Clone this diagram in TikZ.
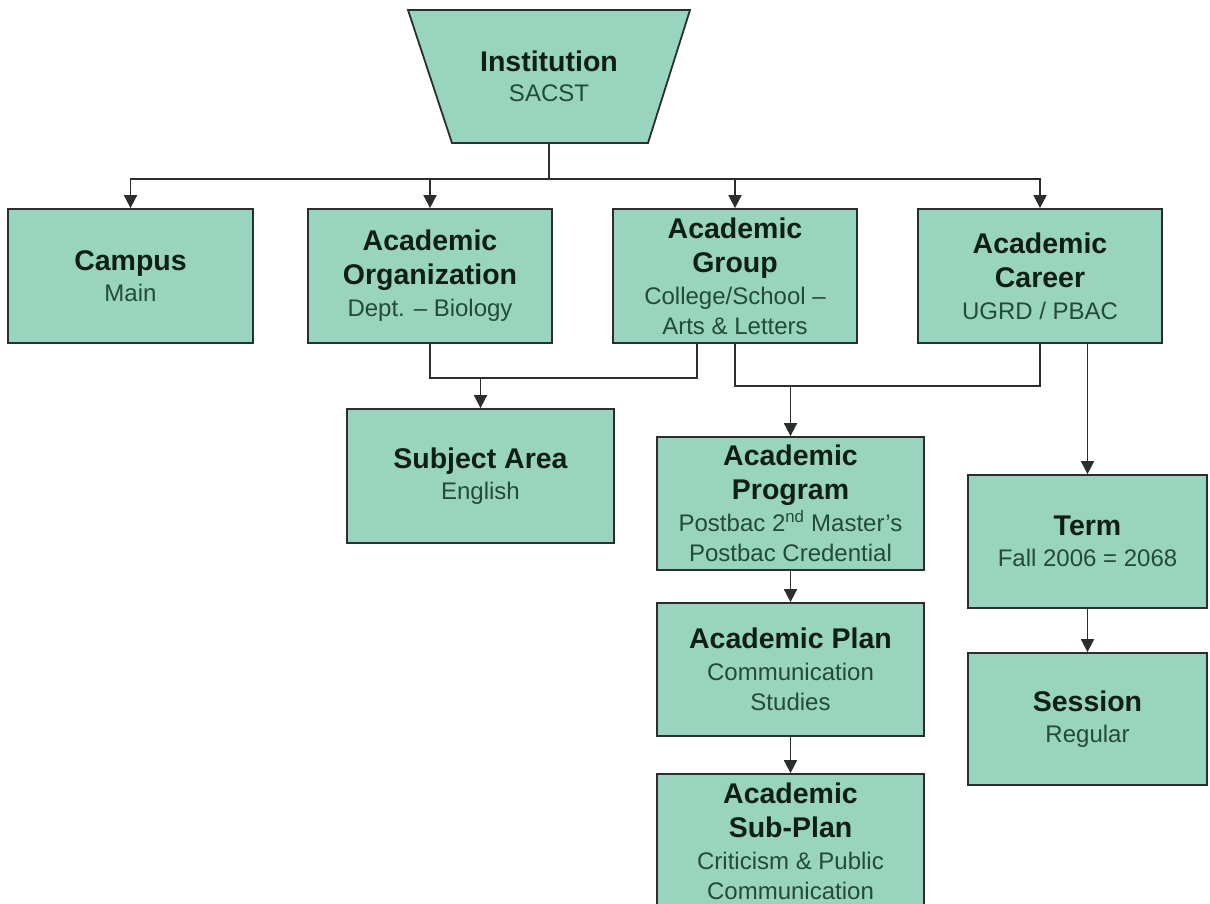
\documentclass[tikz,border=0pt]{standalone}
\usepackage{fontspec}
\setmainfont{Liberation Sans}
\usetikzlibrary{arrows.meta}
\definecolor{boxfill}{HTML}{99D5BE}
\definecolor{boxline}{HTML}{2A2E2C}
\definecolor{titlecol}{HTML}{0F1F18}
\definecolor{subcol}{HTML}{234A3A}
\newcommand{\ttlx}[1]{{\fontsize{28.5}{34}\selectfont\bfseries\color{titlecol}#1}}
\newcommand{\subx}[1]{{\fontsize{24}{30}\selectfont\color{subcol}#1}}
\tikzset{
  unitbox/.style={draw=boxline, line width=1.8pt, fill=boxfill, align=center,
    inner sep=0pt, minimum width=244pt, minimum height=134pt,
    font=\fontsize{24}{32}\selectfont},
  widebox/.style={unitbox, minimum width=267pt},
  conn/.style={draw=boxline, line width=1.8pt},
  arr/.style={conn, -{Triangle[width=13pt,length=13pt]}}
}
\begin{document}
\begin{tikzpicture}[x=1pt,y=-1pt]
\fill[white] (0,0) rectangle (1210,903);
\useasboundingbox (0,0) rectangle (1210,903);

% Institution trapezoid
\path[fill=boxfill, draw=boxline, line width=1.8pt] (408,10) -- (690,10) -- (648,143) -- (452,143) -- cycle;
\node[align=center, inner sep=0pt, font=\fontsize{24}{32}\selectfont] (inst) at (549,76) {\ttlx{Institution}\\[-2pt]\subx{SACST}};
\coordinate (instb) at (549,143);

% top row
\node[unitbox, minimum width=245pt] (campus) at (130.5,276) {\ttlx{Campus}\\[-1pt]\subx{Main}};
\node[unitbox] (org) at (430,276) {\ttlx{Academic}\\[2pt]\ttlx{Organization}\\\subx{Dept. -- Biology}};
\node[unitbox] (group) at (735,276) {\ttlx{Academic}\\[2pt]\ttlx{Group}\\\subx{College/School --}\\[-2pt]\subx{Arts \& Letters}};
\node[unitbox] (career) at (1040,276) {\ttlx{Academic}\\[2pt]\ttlx{Career}\\\subx{UGRD / PBAC}};

% lower boxes
\node[widebox] (subject) at (480.5,476) {\ttlx{Subject Area}\\[-1pt]\subx{English}};
\node[widebox, minimum height=133pt] (program) at (790.5,503.5) {\ttlx{Academic}\\[2pt]\ttlx{Program}\\\subx{Postbac 2\textsuperscript{nd} Master’s}\\[-2pt]\subx{Postbac Credential}};
\node[widebox, minimum height=133pt] (plan) at (790.5,669.5) {\ttlx{Academic Plan}\\\subx{Communication}\\[-2pt]\subx{Studies}};
\node[widebox] (subplan) at (790.5,841) {\ttlx{Academic}\\[2pt]\ttlx{Sub-Plan}\\\subx{Criticism \& Public}\\[-2pt]\subx{Communication}};
\node[unitbox, minimum width=239pt, minimum height=133pt] (term) at (1087.5,541.5) {\ttlx{Term}\\[-1pt]\subx{Fall 2006 = 2068}};
\node[unitbox, minimum width=239pt, minimum height=132pt] (session) at (1087.5,719) {\ttlx{Session}\\[-1pt]\subx{Regular}};

% institution to top row
\coordinate (bus) at (549,179);
\draw[conn] (instb) -- (bus);
\draw[arr] (bus) -| (campus.north);
\draw[arr] (bus) -| (org.north);
\draw[arr] (bus) -| (group.north);
\draw[arr] (bus) -| (career.north);

% org + group -> subject area
\coordinate (j1) at (480.5,378);
\draw[conn] (org.south) |- (j1) -| ([xshift=-38pt]group.south);
\draw[arr] (j1) -- (subject.north);

% group + career -> program
\coordinate (j2) at (790.5,386);
\draw[conn] (group.south) |- (j2) -| (career.south);
\draw[arr] (j2) -- (program.north);

% career -> term
\draw[arr] (term.north |- career.south) -- (term.north);

\draw[arr] (program.south) -- (plan.north);
\draw[arr] (plan.south) -- (subplan.north);
\draw[arr] (term.south) -- (session.north);
\end{tikzpicture}
\end{document}
